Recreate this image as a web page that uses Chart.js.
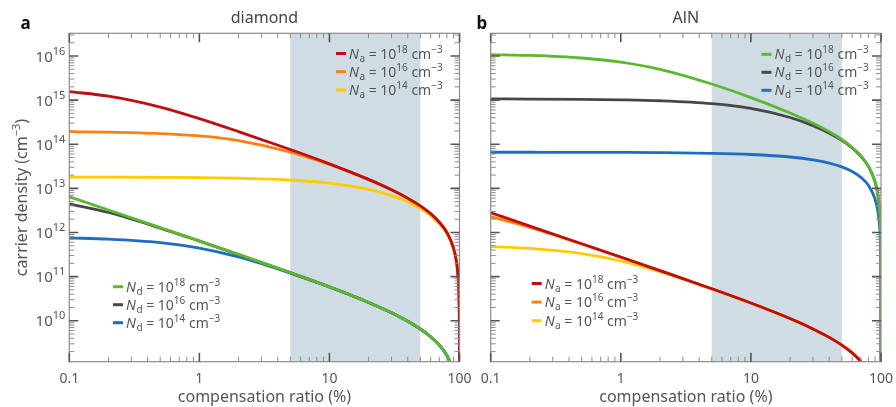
<!DOCTYPE html>
<html><head><meta charset="utf-8">
<script src="https://cdn.jsdelivr.net/npm/chart.js@4.4.1/dist/chart.umd.min.js"></script>
<style>
html,body{margin:0;padding:0;background:#fff;}
#wrap{position:relative;width:896px;height:407px;overflow:hidden;}
.pane{position:absolute;top:0;height:407px;}
#pa{left:0;width:474px;}
#pb{left:474px;width:422px;}
canvas{display:block;}
</style></head><body>
<div id="wrap"><div class="pane" id="pa"><canvas id="ca" width="474" height="407"></canvas></div><div class="pane" id="pb"><canvas id="cb" width="422" height="407"></canvas></div></div>
<script>
// ---- data (compensation ratio in %, carrier density in cm^-3) ----
const compensationRatio = [0.1, 0.2, 0.5, 1, 2, 5, 10, 20, 30, 40, 50, 60, 70, 80, 90, 95, 98, 99, 99.5, 99.8, 99.9, 99.95, 99.98, 99.99, 99.995, 99.998, 99.999, 99.9995];

const diamondNa18 = [1.56e15, 1.23e15, 6.98e14, 3.82e14, 1.94e14, 7.59e13, 3.6e13, 1.6e13, 9.33e12, 6e12, 4e12, 2.67e12, 1.71e12, 1e12, 4.44e11, 2.1e11, 8.16e10, 4.04e10, 2.01e10, 8.0e9, 4.0e9, 2.0e9, 8e8, 4e8, 2e8, 8e7, 4e7, 2e7];
const diamondNa16 = [1.93e14, 1.88e14, 1.74e14, 1.54e14, 1.21e14, 6.66e13, 3.47e13, 1.58e13, 9.29e12, 5.99e12, 3.99e12, 2.66e12, 1.71e12, 1e12, 4.44e11, 2.1e11, 8.16e10, 4.04e10, 2.01e10, 8.0e9, 4.0e9, 2.0e9, 8e8, 4e8, 2e8, 8e7, 4e7, 2e7];
const diamondNa14 = [1.80e13, 1.80e13, 1.78e13, 1.76e13, 1.70e13, 1.55e13, 1.32e13, 9.54e12, 6.85e12, 4.91e12, 3.48e12, 2.41e12, 1.59e12, 9.42e11, 4.24e11, 2.02e11, 7.84e10, 3.88e10, 1.93e10, 7.7e9, 3.85e9, 1.93e9, 7.7e8, 3.85e8, 1.93e8, 7.7e7, 3.85e7, 1.93e7];
const diamondNd18 = [6.45e12, 3.24e12, 1.29e12, 6.44e11, 3.19e11, 1.235e11, 5.85e10, 2.6e10, 1.52e10, 9.75e9, 6.5e9, 4.33e9, 2.79e9, 1.63e9, 7.2e8, 3.4e8, 1.33e8, 6.6e7, 3.3e7, 1.3e7, 6.5e6, 3.3e6, 1.3e6, 6.5e5, 3.3e5, 1.3e5, 6.5e4, 3.3e4];
const diamondNd16 = [4.48e12, 2.84e12, 1.26e12, 6.39e11, 3.18e11, 1.234e11, 5.85e10, 2.6e10, 1.52e10, 9.75e9, 6.5e9, 4.33e9, 2.79e9, 1.63e9, 7.2e8, 3.4e8, 1.33e8, 6.6e7, 3.3e7, 1.3e7, 6.5e6, 3.3e6, 1.3e6, 6.5e5, 3.3e5, 1.3e5, 6.5e4, 3.3e4];
const diamondNd14 = [7.54e11, 7.09e11, 5.90e11, 4.44e11, 2.79e11, 1.20e11, 5.81e10, 2.6e10, 1.52e10, 9.75e9, 6.5e9, 4.33e9, 2.79e9, 1.63e9, 7.2e8, 3.4e8, 1.33e8, 6.6e7, 3.3e7, 1.3e7, 6.5e6, 3.3e6, 1.3e6, 6.5e5, 3.3e5, 1.3e5, 6.5e4, 3.3e4];

const alnNd18 = [1.076e16, 1.029e16, 9.01e15, 7.28e15, 4.99e15, 2.32e15, 1.14e15, 5.10e14, 2.98e14, 1.92e14, 1.28e14, 8.53e13, 5.49e13, 3.2e13, 1.42e13, 6.74e12, 2.61e12, 1.29e12, 6.43e11, 2.57e11, 1.28e11, 6.4e10, 2.56e10, 1.28e10, 6.4e9, 2.56e9, 1.28e9, 6.4e8];
const alnNd16 = [1.064e15, 1.059e15, 1.043e15, 1.017e15, 9.68e14, 8.33e14, 6.48e14, 4.04e14, 2.64e14, 1.78e14, 1.22e14, 8.24e13, 5.35e13, 3.14e13, 1.40e13, 6.64e12, 2.58e12, 1.28e12, 6.35e11, 2.53e11, 1.27e11, 6.33e10, 2.53e10, 1.27e10, 6.33e9, 2.53e9, 1.27e9, 6.3e8];
const alnNd14 = [6.59e13, 6.58e13, 6.56e13, 6.52e13, 6.45e13, 6.23e13, 5.86e13, 5.14e13, 4.43e13, 3.74e13, 3.07e13, 2.41e13, 1.78e13, 1.17e13, 5.72e12, 2.83e12, 1.13e12, 5.62e11, 2.81e11, 1.12e11, 5.62e10, 2.81e10, 1.12e10, 5.6e9, 2.8e9, 1.12e9, 5.6e8, 2.8e8];
const alnNa18 = [2.80e12, 1.40e12, 5.57e11, 2.77e11, 1.37e11, 5.32e10, 2.52e10, 1.12e10, 6.53e9, 4.2e9, 2.8e9, 1.87e9, 1.2e9, 7.0e8, 3.1e8, 1.47e8, 5.7e7, 2.8e7, 1.4e7, 5.6e6, 2.8e6, 1.4e6, 5.6e5, 2.8e5, 1.4e5, 5.6e4, 2.8e4, 1.4e4];
const alnNa16 = [2.28e12, 1.31e12, 5.51e11, 2.76e11, 1.37e11, 5.32e10, 2.52e10, 1.12e10, 6.53e9, 4.2e9, 2.8e9, 1.87e9, 1.2e9, 7.0e8, 3.1e8, 1.47e8, 5.7e7, 2.8e7, 1.4e7, 5.6e6, 2.8e6, 1.4e6, 5.6e5, 2.8e5, 1.4e5, 5.6e4, 2.8e4, 1.4e4];
const alnNa14 = [4.80e11, 4.37e11, 3.33e11, 2.26e11, 1.29e11, 5.26e10, 2.51e10, 1.12e10, 6.53e9, 4.2e9, 2.8e9, 1.87e9, 1.2e9, 7.0e8, 3.1e8, 1.47e8, 5.7e7, 2.8e7, 1.4e7, 5.6e6, 2.8e6, 1.4e6, 5.6e5, 2.8e5, 1.4e5, 5.6e4, 2.8e4, 1.4e4];

const xTickValues = [0.1, 1, 10, 100];
const xTickLabels = ['0.1', '1', '10', '100'];
const yTickExponents = [10, 11, 12, 13, 14, 15, 16];
const shadedRange = [5, 50];
const legendExponents = ['18', '16', '14'];
const panelTitles = ['diamond', 'AlN'];
const panelLetters = ['a', 'b'];
const xTitle = 'compensation ratio (%)';
const yTitle = ['carrier density (cm', '\u22123', ')'];

// ---- styling ----
const FONT = '"Noto Sans", "Open Sans", sans-serif';
const TXT = '#555';
const C = { red: '#c00d0d', orange: '#ff8010', yellow: '#ffcc00', green: '#5cb82e', gray: '#474747', blue: '#1e6ec0' };
const X_MIN = 0.1, X_MAX = 100, Y_MIN = 1.18e9, Y_MAX = 3.27e16;

function logTicks(min, max) {
  const out = [];
  for (let e = Math.floor(Math.log10(min)); e <= Math.ceil(Math.log10(max)); e++) {
    for (let m = 1; m < 10; m++) {
      const v = m * Math.pow(10, e);
      if (v >= min * 0.9999 && v <= max * 1.0001) out.push({ v, major: m === 1 });
    }
  }
  return out;
}

function richText(ctx, x, y, parts) {
  let cx = x;
  for (const p of parts) {
    ctx.font = (p.italic ? 'italic ' : '') + p.size + 'px ' + FONT;
    ctx.fillText(p.t, cx, y + (p.dy || 0));
    cx += ctx.measureText(p.t).width + (p.gap || 0);
  }
  return cx - x;
}
function richWidth(ctx, parts) {
  let w = 0;
  for (const p of parts) { ctx.font = (p.italic ? 'italic ' : '') + p.size + 'px ' + FONT; w += ctx.measureText(p.t).width + (p.gap || 0); }
  return w;
}

function legendParts(sub, exp) {
  return [
    { t: 'N', size: 14, italic: true, gap: 0.5 },
    { t: sub, size: 10, dy: 3 },
    { t: ' = 10', size: 14 },
    { t: exp, size: 10, dy: -6 },
    { t: ' cm', size: 14 },
    { t: '\u22123', size: 10, dy: -6 }
  ];
}

function decorPlugin(p) {
  return {
    id: 'decor',
    beforeDatasetsDraw(chart) {
      const { ctx, chartArea: a, scales } = chart;
      const x0 = scales.x.getPixelForValue(shadedRange[0]);
      const x1 = scales.x.getPixelForValue(shadedRange[1]);
      ctx.save();
      ctx.fillStyle = '#d0dce3';
      ctx.fillRect(x0, a.top, x1 - x0, a.bottom - a.top);
      ctx.restore();
    },
    afterDraw(chart) {
      const { ctx, chartArea: a, scales: { x: xs, y: ys } } = chart;
      ctx.save();
      ctx.strokeStyle = '#8c8c8c'; ctx.lineWidth = 1.2;
      ctx.strokeRect(a.left, a.top, a.right - a.left, a.bottom - a.top);
      for (const t of logTicks(X_MIN, X_MAX)) {
        const px = xs.getPixelForValue(t.v), len = t.major ? 9 : 5;
        ctx.lineWidth = t.major ? 1.6 : 1; ctx.strokeStyle = t.major ? '#555' : '#8c8c8c';
        ctx.beginPath();
        ctx.moveTo(px, a.bottom); ctx.lineTo(px, a.bottom - len);
        ctx.moveTo(px, a.top); ctx.lineTo(px, a.top + len);
        ctx.stroke();
      }
      for (const t of logTicks(Y_MIN, Y_MAX)) {
        const py = ys.getPixelForValue(t.v), len = t.major ? 9 : 5;
        ctx.lineWidth = t.major ? 1.6 : 1; ctx.strokeStyle = t.major ? '#555' : '#8c8c8c';
        ctx.beginPath();
        ctx.moveTo(a.left, py); ctx.lineTo(a.left + len, py);
        ctx.moveTo(a.right, py); ctx.lineTo(a.right - len, py);
        ctx.stroke();
      }
      ctx.fillStyle = TXT;
      ctx.textBaseline = 'alphabetic';
      ctx.textAlign = 'left';
      if (p.yLabels) {
        for (const e of yTickExponents) {
          const py = ys.getPixelForValue(Math.pow(10, e));
          const parts = [{ t: '10', size: 15 }, { t: String(e), size: 11, dy: -7 }];
          const w = richWidth(ctx, parts);
          richText(ctx, a.left - 4 - w, py + 5.5, parts);
        }
        const tparts = [{ t: yTitle[0], size: 16 }, { t: yTitle[1], size: 11, dy: -7 }, { t: yTitle[2], size: 16 }];
        const tw = richWidth(ctx, tparts);
        ctx.save();
        ctx.translate(27, (a.top + a.bottom) / 2);
        ctx.rotate(-Math.PI / 2);
        richText(ctx, -tw / 2, 0, tparts);
        ctx.restore();
      }
      ctx.font = '16px ' + FONT; ctx.textAlign = 'center';
      ctx.fillText(xTitle, (a.left + a.right) / 2, 402);
      ctx.fillStyle = '#444';
      ctx.fillText(p.title, (a.left + a.right) / 2, 23);
      ctx.textAlign = 'left'; ctx.fillStyle = '#111';
      ctx.font = 'bold 17px ' + FONT;
      ctx.fillText(p.letter, p.letterX, 29);
      ctx.fillStyle = TXT;
      for (const lg of p.legends) {
        lg.items.forEach((it, i) => {
          const y = lg.y + i * lg.dy;
          ctx.strokeStyle = it.color; ctx.lineWidth = 3;
          ctx.beginPath(); ctx.moveTo(lg.x, y); ctx.lineTo(lg.x + 10, y); ctx.stroke();
          richText(ctx, lg.x + 13, y + 5, legendParts(lg.sub, legendExponents[i]));
        });
      }
      ctx.restore();
    }
  };
}

function makeChart(id, p) {
  return new Chart(document.getElementById(id), {
    type: 'line',
    data: {
      datasets: p.series.map(s => ({
        data: compensationRatio.map((x, i) => ({ x, y: s.values[i] })),
        borderColor: s.color, borderWidth: 2.8, pointRadius: 0,
        cubicInterpolationMode: 'monotone', fill: false
      }))
    },
    options: {
      responsive: false, animation: false, devicePixelRatio: 1,
      layout: { autoPadding: false, padding: { left: 0, right: p.padRight, top: 33.3, bottom: 0 } },
      plugins: { legend: { display: false }, tooltip: { enabled: false }, title: { display: false } },
      scales: {
        x: {
          type: 'logarithmic', min: X_MIN, max: X_MAX,
          grid: { display: false, drawTicks: false }, border: { display: false },
          afterBuildTicks: s => { s.ticks = xTickValues.map(v => ({ value: v })); },
          ticks: { autoSkip: false, maxRotation: 0, padding: 9, color: TXT, font: { family: FONT, size: 14 },
                   callback: (v, i) => xTickLabels[i] },
          afterFit: s => { s.height = 45.3; s.paddingLeft = 0; s.paddingRight = 0; }
        },
        y: {
          type: 'logarithmic', min: Y_MIN, max: Y_MAX,
          grid: { display: false, drawTicks: false }, border: { display: false },
          afterBuildTicks: s => { s.ticks = yTickExponents.map(e => ({ value: Math.pow(10, e) })); },
          ticks: { display: false },
          afterFit: s => { s.width = p.yWidth; s.paddingTop = 0; s.paddingBottom = 0; }
        }
      }
    },
    plugins: [decorPlugin(p)]
  });
}

makeChart('ca', {
  title: panelTitles[0], letter: panelLetters[0], letterX: 20.5, yLabels: true, yWidth: 69.3, padRight: 14.5,
  series: [
    { values: diamondNa18, color: C.red }, { values: diamondNa16, color: C.orange }, { values: diamondNa14, color: C.yellow },
    { values: diamondNd18, color: C.green }, { values: diamondNd16, color: C.gray }, { values: diamondNd14, color: C.blue }
  ],
  legends: [
    { x: 336, y: 53.5, dy: 18.2, sub: 'a', items: [{ color: C.red }, { color: C.orange }, { color: C.yellow }] },
    { x: 113, y: 286.7, dy: 18, sub: 'd', items: [{ color: C.green }, { color: C.gray }, { color: C.blue }] }
  ]
});

makeChart('cb', {
  title: panelTitles[1], letter: panelLetters[1], letterX: 2.5, yLabels: false, yWidth: 16.7, padRight: 15,
  series: [
    { values: alnNa18, color: C.red }, { values: alnNa16, color: C.orange }, { values: alnNa14, color: C.yellow },
    { values: alnNd18, color: C.green }, { values: alnNd16, color: C.gray }, { values: alnNd14, color: C.blue }
  ],
  legends: [
    { x: 287.5, y: 54.3, dy: 18, sub: 'd', items: [{ color: C.green }, { color: C.gray }, { color: C.blue }] },
    { x: 57.7, y: 283.5, dy: 18.6, sub: 'a', items: [{ color: C.red }, { color: C.orange }, { color: C.yellow }] }
  ]
});
</script>
</body></html>
